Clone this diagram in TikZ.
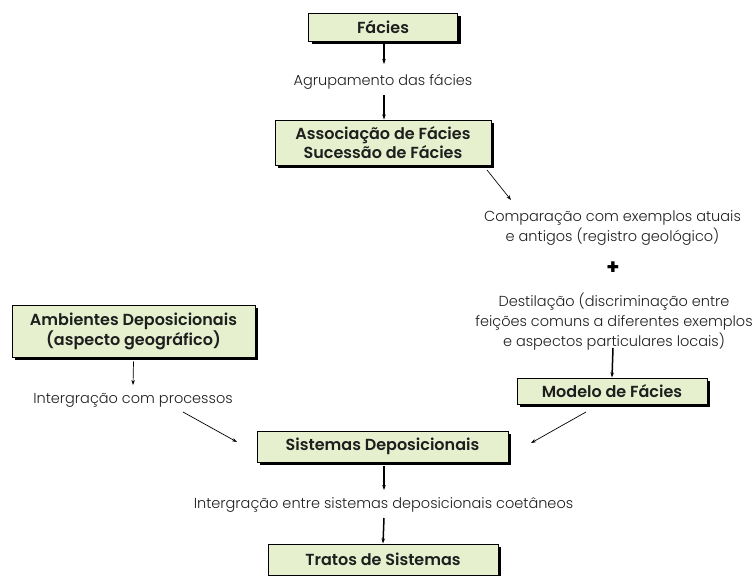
\documentclass[tikz,border=0pt]{standalone}
\usepackage{fontspec}
\setmainfont{Poppins}
\newfontfamily\captionfont{Poppins Light}
\newfontfamily\stagefont{Poppins SemiBold}
\usetikzlibrary{shadows,arrows.meta}
\definecolor{boxfill}{RGB}{230,240,206}
\definecolor{ink}{RGB}{30,30,30}
\tikzset{
  stage/.style={draw=black, line width=1pt, fill=boxfill, inner sep=0pt,
    align=center, font=\stagefont\fontsize{16}{19}\selectfont, text=ink,
    drop shadow={shadow xshift=3pt, shadow yshift=-3pt, fill=black, opacity=1}},
  note/.style={inner sep=0pt, align=center, font=\captionfont\fontsize{14.5}{20}\selectfont, text=ink},
  vflow/.style={-{Stealth[length=5pt,width=3.5pt]}, line width=1.5pt, black},
  dflow/.style={-{Stealth[length=5pt,width=3.5pt]}, line width=0.7pt, black}
}
\begin{document}
\begin{tikzpicture}[x=1pt,y=-1pt]
  \useasboundingbox (0,0) rectangle (756,576);

  % boxes
  \node[stage, minimum width=149pt, minimum height=28pt] (facies) at (383,27) {Fácies};
  \node[stage, minimum width=216pt, minimum height=45pt] (assoc) at (383,142.5)
    {Associação de Fácies\\Sucessão de Fácies};
  \node[stage, minimum width=243pt, minimum height=52pt] (amb) at (133.5,331)
    {Ambientes Deposicionais\\(aspecto geográfico)};
  \node[stage, minimum width=190pt, minimum height=26pt] (modelo) at (612,391) {Modelo de Fácies};
  \node[stage, minimum width=251pt, minimum height=31pt] (sist) at (382.5,446.5) {Sistemas Deposicionais};
  \node[stage, minimum width=230pt, minimum height=31pt] (tratos) at (383,559.5) {Tratos de Sistemas};

  % captions between the steps
  \node[note] (agr) at (383,82) {Agrupamento das fácies};
  \node[note] (comp) at (612.5,227.5) {Comparação com exemplos atuais\\e antigos (registro geológico)};
  \node[font=\bfseries\fontsize{21}{21}\selectfont, inner sep=0pt] (plus) at (613,268) {+};
  \node[note] (dest) at (614,322) {Destilação (discriminação entre\\feições comuns a diferentes exemplos\\e aspectos particulares locais)};
  \node[note] (integ) at (133,400) {Intergração com processos};
  \node[note] (coet) at (383.5,505) {Intergração entre sistemas deposicionais coetâneos};

  % free ends of the connectors
  \coordinate (e1) at (384,64);
  \coordinate (s1) at (384,95);
  \coordinate (s2) at (487,170);
  \coordinate (e2) at (511,200);
  \coordinate (s3) at (613,348);
  \coordinate (s4) at (586,412);
  \coordinate (e4) at (531,443);
  \coordinate (e5) at (133,385);
  \coordinate (s6) at (183,412);
  \coordinate (e6) at (237,442);
  \coordinate (e7) at (384,490);
  \coordinate (s8) at (384,518);

  % connectors
  \draw[vflow] (e1 |- facies.south) ++(0,2) -- (e1);
  \draw[vflow] (s1) -- (s1 |- assoc.north);
  \draw[dflow] (s2) -- (e2);
  \draw[vflow] (s3) -- (modelo.north);
  \draw[dflow] (s4) -- (e4);
  \draw[dflow] (amb.south) ++(0,4) -- (e5);
  \draw[dflow] (s6) -- (e6);
  \draw[vflow] (sist.south) ++(1.5,3) -- (e7);
  \draw[vflow] (s8) -- (tratos.north);
\end{tikzpicture}
\end{document}
